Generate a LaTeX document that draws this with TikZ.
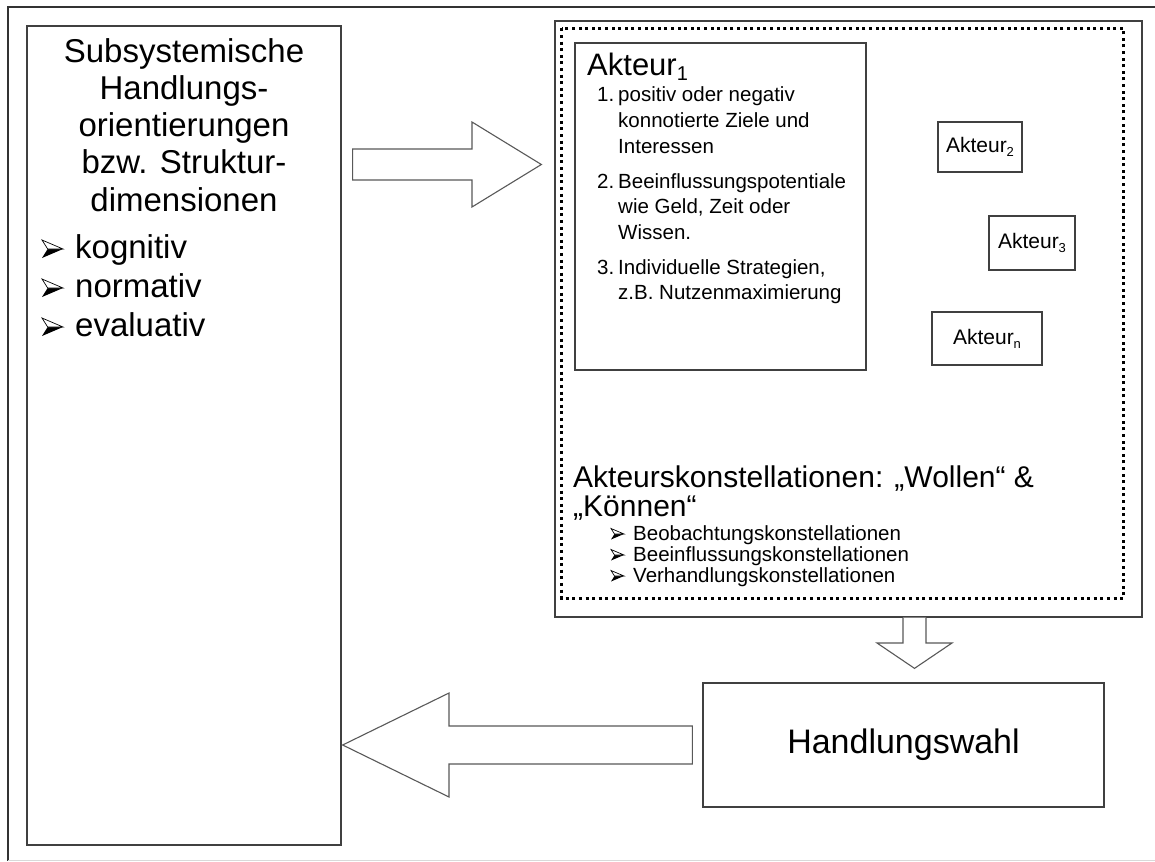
\documentclass[tikz,border=0pt]{standalone}
\usepackage{fontspec}
\setmainfont{Liberation Sans}
\usetikzlibrary{calc}
\newcommand\fs[2]{\fontsize{#1}{#2}\selectfont}
\newcommand\sub[3]{\raisebox{-#2pt}{\fs{#1}{#1}#3}}

\begin{document}
\begin{tikzpicture}[x=1pt,y=-1pt,
  frame/.style={draw=black!80, line width=1.3pt},
  box/.style={draw=black!75, line width=1.3pt, inner sep=0pt},
  dotbox/.style={draw=black, line width=3pt, dash pattern=on 3pt off 3.6pt},
  blk/.style={draw=black!65, line width=1.1pt, line join=miter, fill=white},
  lbl/.style={inner sep=0pt, anchor=base west},
  clbl/.style={inner sep=0pt, anchor=base},
  big/.style={font=\fs{33}{33}},
  mid/.style={font=\fs{30}{30}},
  small/.style={font=\fs{20.5}{20.5}},
  actor/.style={box, font=\fs{21}{21}},
  % three-dimensional arrowhead bullet, tip at (1,0)
  arrowhd/.pic={
    \fill[black] (0.27,0) -- (1,0) -- (0,0.5) -- cycle;
    \draw[black, line width=0.7pt, line join=miter, fill=white] (0,-0.5) -- (1,0) -- (0.27,0) -- cycle;
  },
]
\useasboundingbox (0,0) rectangle (1155,861);
\fill[white] (0,0) rectangle (1155,861);

% page frame
\draw[frame] (1155,7) -- (8,7) -- (8,861);
\draw[black!15, line width=0.8pt] (8,860) -- (1155,860);

% ---------------- left column ----------------
\node[box, minimum width=314pt, minimum height=819pt] (left) at (184,435.5) {};
\node[clbl, big] (t1) at (184,63)  {Subsystemische};
\node[clbl, big] (t2) at (184,100) {Handlungs-};
\node[clbl, big] (t3) at (184,137) {orientierungen};
\node[clbl, big] (t4) at (184,174) {bzw. Struktur-};
\node[clbl, big] (t5) at (184,211) {dimensionen};
\pic[xscale=21, yscale=18] at (42,249) {arrowhd};
\node[lbl, big] (k1) at (75,258) {kognitiv};
\pic[xscale=21, yscale=18] at (42,288) {arrowhd};
\node[lbl, big] (k2) at (75,297) {normativ};
\pic[xscale=21, yscale=18] at (42,327) {arrowhd};
\node[lbl, big] (k3) at (75,336) {evaluativ};

% ---------------- actor constellation ----------------
\node[box, minimum width=587pt, minimum height=596pt] (right) at (848.5,319) {};
\draw[dotbox] (561.5,28.5) rectangle (1123.5,598.5);

\node[box, minimum width=291pt, minimum height=327pt] (a1) at (720.5,206.5) {};
\node[lbl, font=\fs{31}{31}] (a1t) at (587,76) {Akteur\sub{20}{5}{1}};

\node[lbl, small] (n1) at (597,102) {1.};
\node[lbl, small] (i1a) at (618,102) {positiv oder negativ};
\node[lbl, small] (i1b) at (618,128) {konnotierte Ziele und};
\node[lbl, small] (i1c) at (618,154) {Interessen};
\node[lbl, small] (n2) at (597,188) {2.};
\node[lbl, small] (i2a) at (618,188) {Beeinflussungspotentiale};
\node[lbl, small] (i2b) at (618,213) {wie Geld, Zeit oder};
\node[lbl, small] (i2c) at (618,239) {Wissen.};
\node[lbl, small] (n3) at (597,274) {3.};
\node[lbl, small] (i3a) at (618,274) {Individuelle Strategien,};
\node[lbl, small] (i3b) at (618,299) {z.B. Nutzenmaximierung};

\node[actor, minimum width=84pt, minimum height=50pt] (a2) at (980,147)
  {Akteur\sub{13}{4}{2}};
\node[actor, minimum width=86pt, minimum height=54pt] (a3) at (1032,243)
  {Akteur\sub{13}{4}{3}};
\node[actor, minimum width=110pt, minimum height=53pt] (an) at (987,338.5)
  {Akteur\sub{13}{4}{n}};

\node[lbl, mid] (k) at (573,487) {Akteurskonstellationen: „Wollen“ \&};
\node[lbl, mid] (k2l) at (573,516) {„Können“};
\pic[xscale=13, yscale=11] at (611,534) {arrowhd};
\node[lbl, small] (c1) at (633,540) {Beobachtungskonstellationen};
\pic[xscale=13, yscale=11] at (611,555) {arrowhd};
\node[lbl, small] (c2) at (633,561) {Beeinflussungskonstellationen};
\pic[xscale=13, yscale=11] at (611,576) {arrowhd};
\node[lbl, small] (c3) at (633,582) {Verhandlungskonstellationen};

% ---------------- choice of action ----------------
\node[box, minimum width=401pt, minimum height=124pt, font=\fs{34}{34}] (hw) at (903.5,745)
  {Handlungswahl};

% ---------------- block arrows ----------------
% left column -> actors
\draw[blk] ($(left.east |- 0,149)+(11,0)$) -- (472,149) -- (472,122) -- ($(right.west |- 0,164.5)+(-13,0)$)
  -- (472,207) -- (472,180) -- ($(left.east |- 0,180)+(11,0)$) -- cycle;
% actors -> choice of action
\draw[blk] (right.south -| 903,0) -- (903,643) -- (877,643) -- ($(hw.north -| 914.5,0)+(0,-14)$)
  -- (952,643) -- (926,643) -- (right.south -| 926,0);
% choice of action -> left column
\draw[blk] ($(hw.west |- 0,726)+(-10,0)$) -- (449,726) -- (449,693) -- ($(left.east |- 0,745)+(1,0)$)
  -- (449,797) -- (449,764) -- ($(hw.west |- 0,764)+(-10,0)$) -- cycle;
\end{tikzpicture}
\end{document}
